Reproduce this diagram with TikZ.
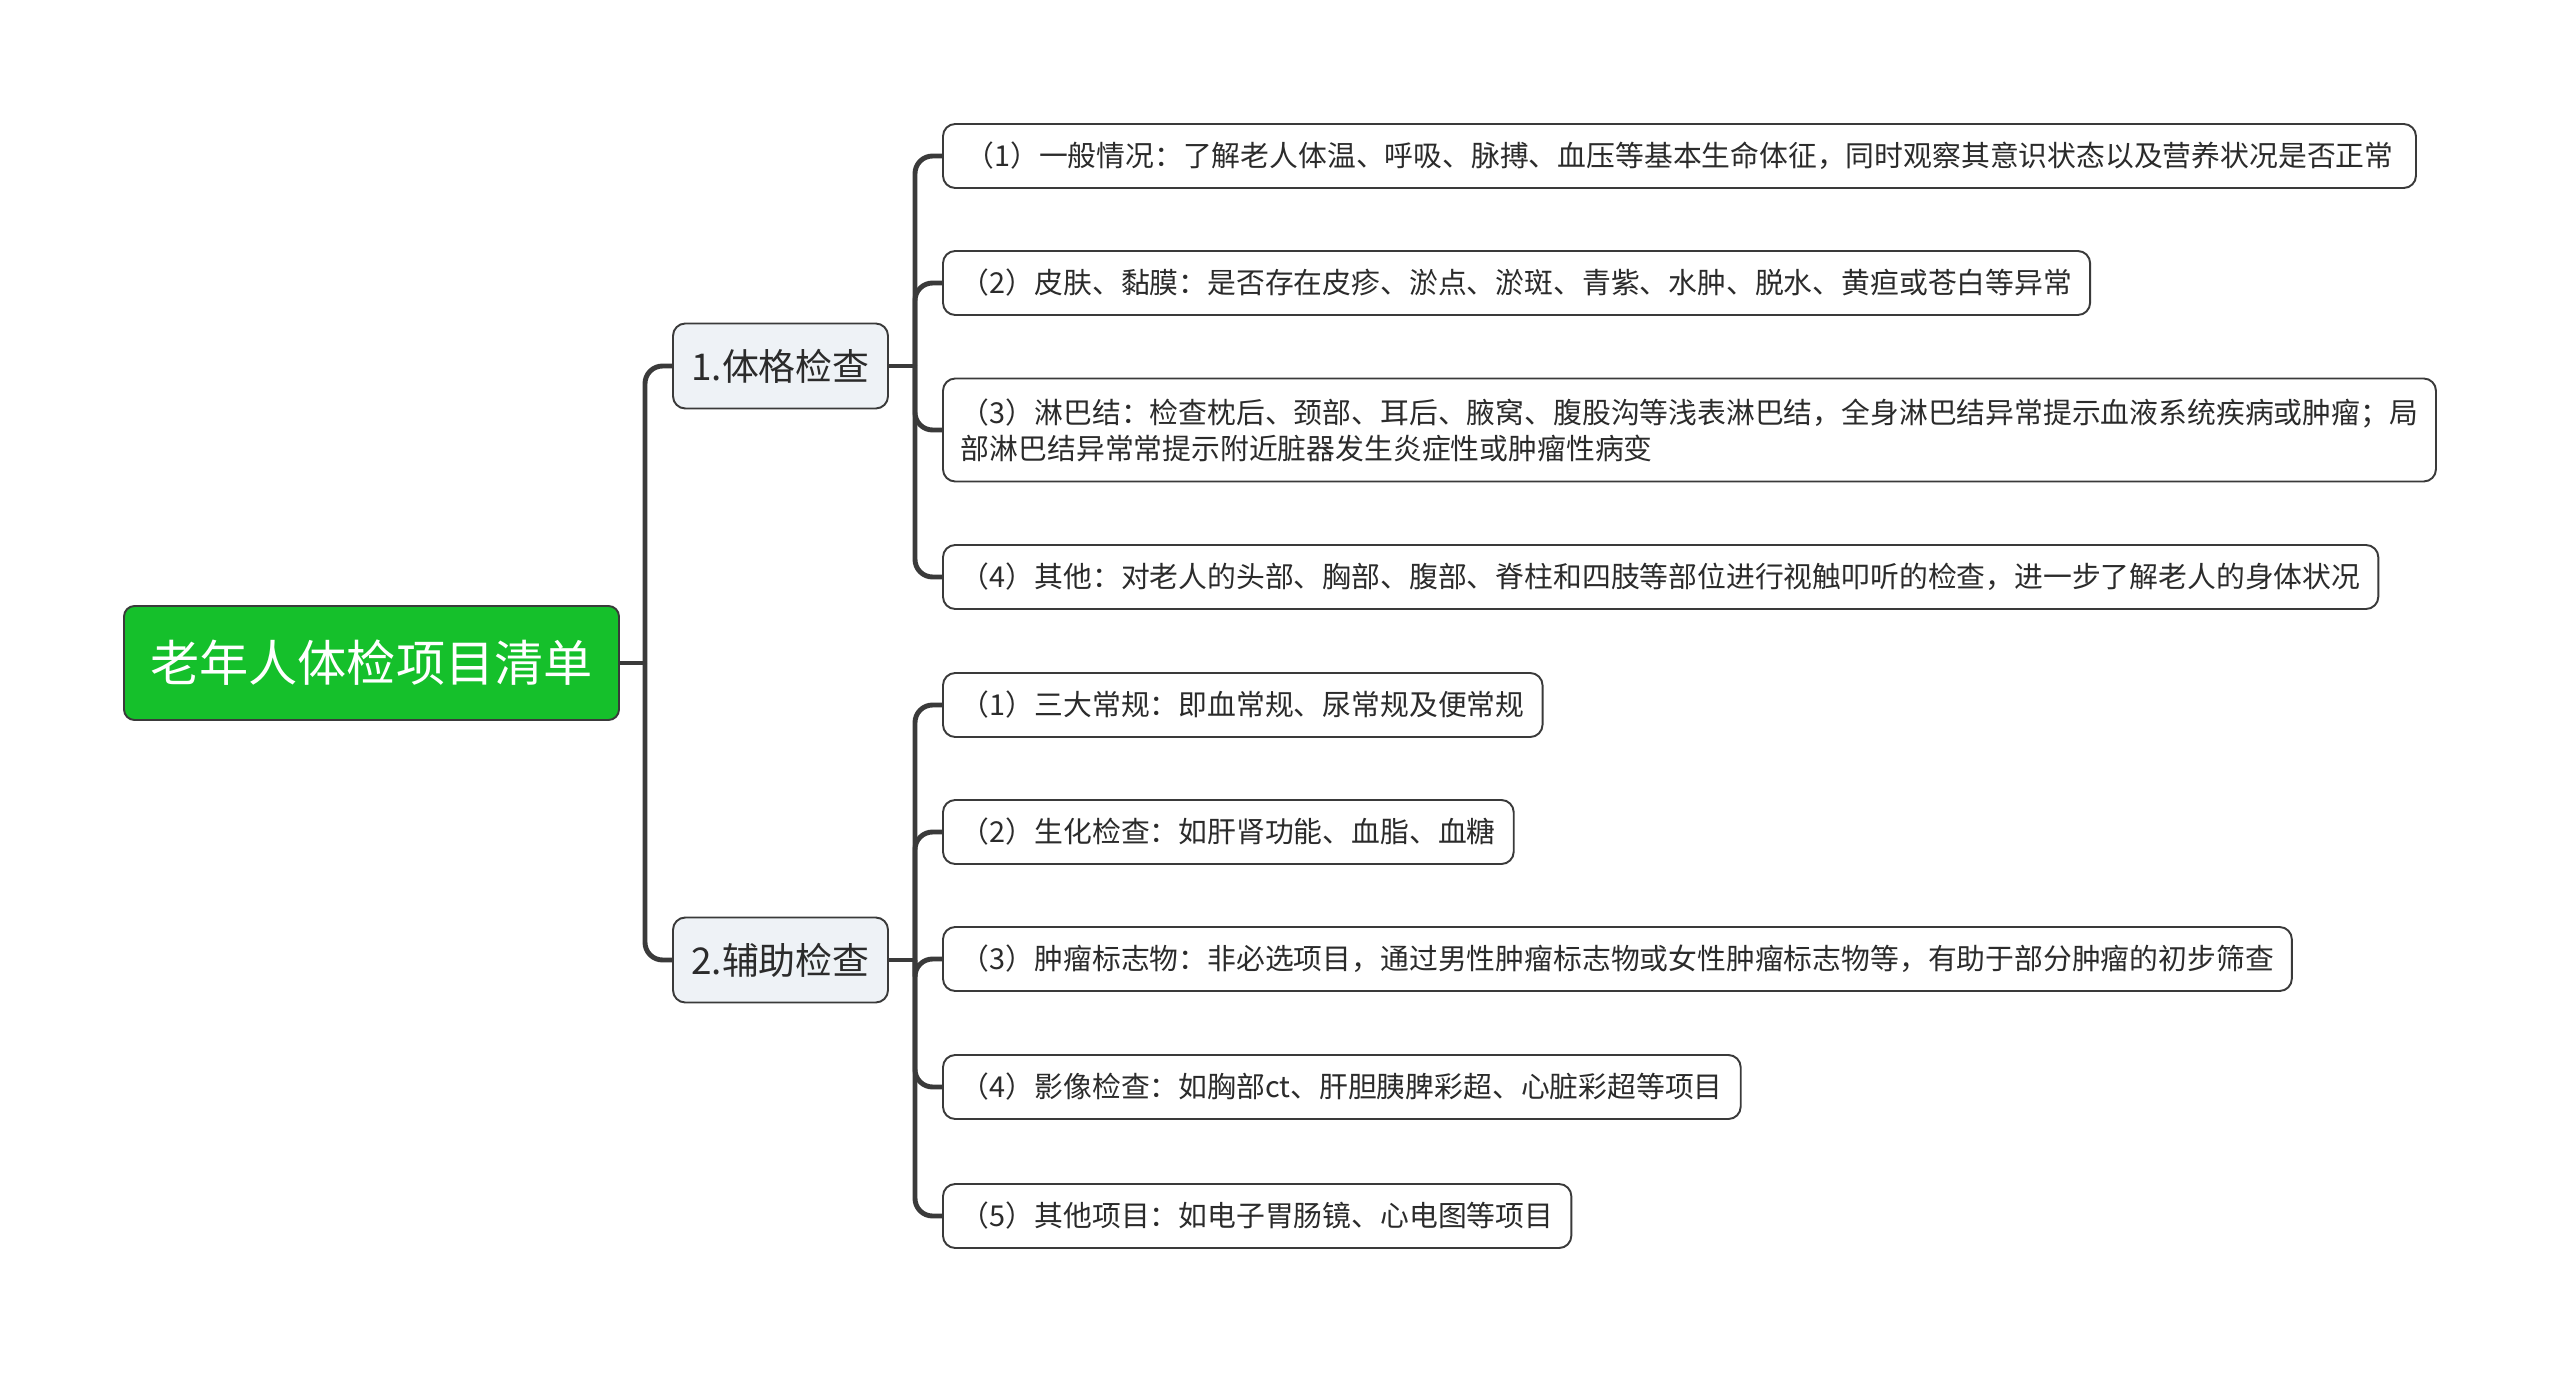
\documentclass[tikz,border=0pt]{standalone}
\usepackage{fontspec}
\setmainfont{Noto Sans CJK SC}
\usepackage{tikz}
\usetikzlibrary{positioning}
\definecolor{rootgreen}{HTML}{15C02B}
\definecolor{branchfill}{HTML}{EEF2F6}
\definecolor{edge}{HTML}{3A3A3A}
\definecolor{ink}{HTML}{2B2B2B}

\begin{document}
\begin{tikzpicture}[
  topic/.style={
    rectangle, rounded corners=6pt, draw=edge, line width=1.1pt,
    fill=rootgreen, text=white, font=\fontsize{28}{32}\selectfont,
    minimum width=9.9cm, minimum height=2.28cm
  },
  branch/.style={
    rectangle, rounded corners=7pt, draw=edge, line width=1.1pt,
    fill=branchfill, text=ink, font=\fontsize{21}{25}\selectfont,
    minimum width=4.3cm, minimum height=1.7cm
  },
  leaf/.style={
    rectangle, rounded corners=7pt, draw=edge, line width=1.1pt,
    fill=white, text=ink, font=\fontsize{16.4}{20.5}\selectfont,
    inner xsep=0.36cm, minimum height=1.28cm, anchor=west
  },
  link/.style={draw=edge, line width=2.8pt, rounded corners=10pt},
]
\useasboundingbox (0,0) rectangle (51.2,-27.46);

% Root and the two main branches
\node[topic]  (root) at (7.43,-13.26) {老年人体检项目清单};
\node[branch] (body) at (15.61,-7.32) {1.体格检查};
\node[branch] (aux)  at (15.61,-19.2) {2.辅助检查};

% Leaves of 1.体格检查
\node[leaf, minimum width=29.46cm] (body1) at (18.84,-3.12) {（1）一般情况：了解老人体温、呼吸、脉搏、血压等基本生命体征，同时观察其意识状态以及营养状况是否正常};
\node[leaf] (body2) at (18.84,-5.66) {（2）皮肤、黏膜：是否存在皮疹、淤点、淤斑、青紫、水肿、脱水、黄疸或苍白等异常};
\node[leaf, text width=29.14cm, align=left, minimum height=2.06cm] (body3) at (18.84,-8.60) {（3）淋巴结：检查枕后、颈部、耳后、腋窝、腹股沟等浅表淋巴结，全身淋巴结异常提示血液系统疾病或肿瘤；局\\部淋巴结异常常提示附近脏器发生炎症性或肿瘤性病变};
\node[leaf] (body4) at (18.84,-11.54) {（4）其他：对老人的头部、胸部、腹部、脊柱和四肢等部位进行视触叩听的检查，进一步了解老人的身体状况};

% Leaves of 2.辅助检查
\node[leaf] (aux1) at (18.84,-14.10) {（1）三大常规：即血常规、尿常规及便常规};
\node[leaf] (aux2) at (18.84,-16.64) {（2）生化检查：如肝肾功能、血脂、血糖};
\node[leaf] (aux3) at (18.84,-19.18) {（3）肿瘤标志物：非必选项目，通过男性肿瘤标志物或女性肿瘤标志物等，有助于部分肿瘤的初步筛查};
\node[leaf] (aux4) at (18.84,-21.74) {（4）影像检查：如胸部ct、肝胆胰脾彩超、心脏彩超等项目};
\node[leaf] (aux5) at (18.84,-24.32) {（5）其他项目：如电子胃肠镜、心电图等项目};

% Root ──► branches
\coordinate (rootfork) at (12.9,-13.26);
\draw[link] (root.east) -- (rootfork);
\draw[link] (rootfork) |- (body.west);
\draw[link] (rootfork) |- (aux.west);

% Branch 1 ──► its leaves
\coordinate (bodyfork) at (18.3,-7.32);
\draw[link] (body.east) -- (bodyfork);
\draw[link] (bodyfork) |- (body1.west);
\draw[link] (bodyfork) |- (body2.west);
\draw[link] (bodyfork) |- (body3.west);
\draw[link] (bodyfork) |- (body4.west);

% Branch 2 ──► its leaves
\coordinate (auxfork) at (18.3,-19.2);
\draw[link] (aux.east) -- (auxfork);
\draw[link] (auxfork) |- (aux1.west);
\draw[link] (auxfork) |- (aux2.west);
\draw[link] (auxfork) |- (aux3.west);
\draw[link] (auxfork) |- (aux4.west);
\draw[link] (auxfork) |- (aux5.west);
\end{tikzpicture}
\end{document}
